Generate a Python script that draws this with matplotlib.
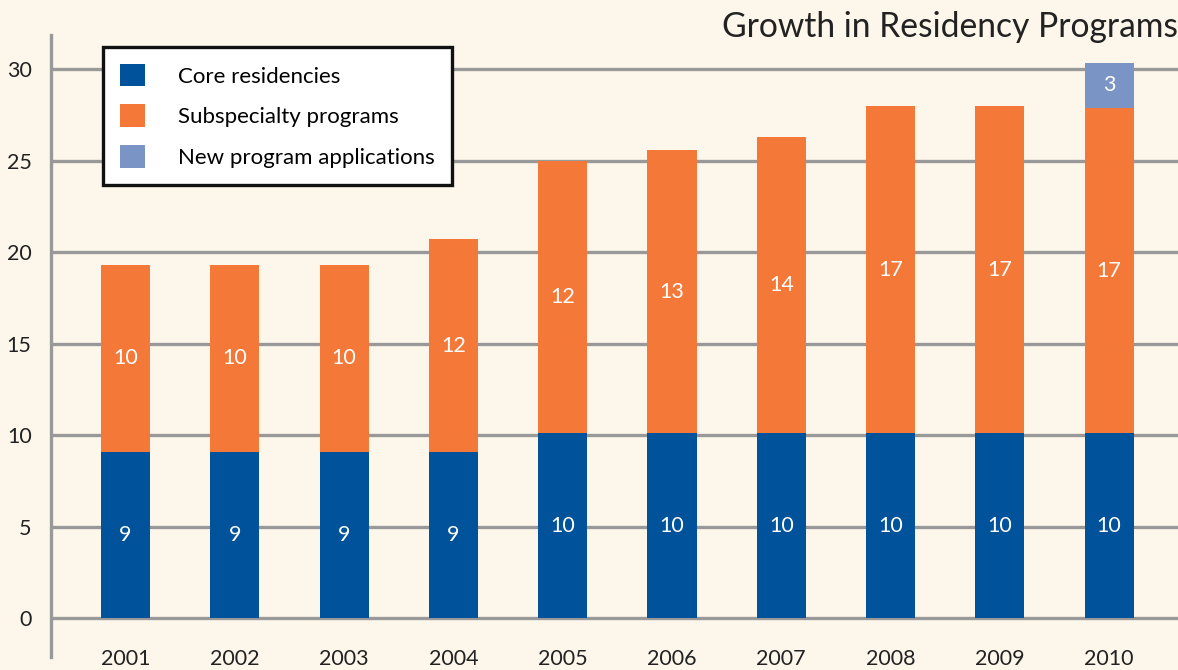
import matplotlib
matplotlib.use("Agg")
import matplotlib.pyplot as plt
from matplotlib.patches import Patch
import numpy as np

years = ["2001", "2002", "2003", "2004", "2005", "2006", "2007", "2008", "2009", "2010"]
# bar heights as drawn in the picture
core = [9.1, 9.1, 9.1, 9.1, 10.1, 10.1, 10.1, 10.1, 10.1, 10.1]
subspecialty = [10.2, 10.2, 10.2, 11.6, 14.9, 15.5, 16.2, 17.9, 17.9, 17.8]
new_apps = [0, 0, 0, 0, 0, 0, 0, 0, 0, 2.45]
# printed labels
core_labels = ["9", "9", "9", "9", "10", "10", "10", "10", "10", "10"]
sub_labels = ["10", "10", "10", "12", "12", "13", "14", "17", "17", "17"]
new_labels = ["", "", "", "", "", "", "", "", "", "3"]
series_names = ["Core residencies", "Subspecialty programs", "New program applications"]
yticks = [0, 5, 10, 15, 20, 25, 30]

BG = "#fdf6ea"
BLUE = "#00529b"
ORANGE = "#f47938"
LIGHT = "#7b94c6"
GRID = "#999999"
FONT = "Lato"

W, H = 1178, 670
fig = plt.figure(figsize=(W / 100, H / 100), dpi=100, facecolor=BG)
left, right, top, bottom = 51, 1178, 35, 657
ax = fig.add_axes([left / W, 1 - bottom / H, (right - left) / W, (bottom - top) / H])
ax.set_facecolor(BG)

x = np.arange(len(years))
width = 0.45
core_a = np.array(core)
sub_a = np.array(subspecialty)
new_a = np.array(new_apps)

ax.bar(x, core_a, width, color=BLUE, zorder=3)
ax.bar(x, sub_a, width, bottom=core_a, color=ORANGE, zorder=3)
ax.bar(x, new_a, width, bottom=core_a + sub_a, color=LIGHT, zorder=3)

LBL = 15.5
for i in range(len(years)):
    ax.text(x[i], core_a[i] / 2, core_labels[i], ha="center", va="center",
            color="white", fontsize=LBL, family=FONT, zorder=4)
    ax.text(x[i], core_a[i] + sub_a[i] / 2, sub_labels[i], ha="center", va="center",
            color="white", fontsize=LBL, family=FONT, zorder=4)
    if new_labels[i]:
        ax.text(x[i], core_a[i] + sub_a[i] + new_a[i] / 2, new_labels[i], ha="center",
                va="center", color="white", fontsize=LBL, family=FONT, zorder=4)

ax.set_xlim(-0.682, 9.63)
ax.set_ylim(-2.11, 31.87)
for yv in yticks:
    ax.axhline(yv, color=GRID, lw=2.4, zorder=1)

ax.set_yticks(yticks)
ax.set_yticklabels([str(v) for v in yticks], fontsize=15.5, family=FONT, color="#222222")
ax.set_xticks(x)
ax.set_xticklabels(years, fontsize=15.5, family=FONT, color="#222222")
ax.tick_params(axis="both", length=0)
ax.tick_params(axis="y", pad=14)
ax.tick_params(axis="x", pad=-6)
for s in ["top", "right", "bottom"]:
    ax.spines[s].set_visible(False)
ax.spines["left"].set_color(GRID)
ax.spines["left"].set_linewidth(2.4)

handles = [Patch(facecolor=c, edgecolor="none") for c in (BLUE, ORANGE, LIGHT)]
leg = ax.legend(handles, series_names, loc="upper left",
                bbox_to_anchor=(103 / W, 1 - 47 / H), bbox_transform=fig.transFigure,
                borderaxespad=0, frameon=True, fancybox=False, framealpha=1,
                prop={"family": FONT, "size": 16},
                handlelength=1.13, handleheight=1.2, handletextpad=1.5,
                labelspacing=0.8, borderpad=0.75)
leg.get_frame().set_edgecolor("#111111")
leg.get_frame().set_linewidth(2.4)
leg.set_zorder(10)

fig.text(1178 / W, 1 - 27 / H, "Growth in Residency Programs", ha="right", va="center",
         fontsize=24.2, family=FONT, color="#222222")

fig.savefig("out.png", dpi=100, facecolor=BG)
